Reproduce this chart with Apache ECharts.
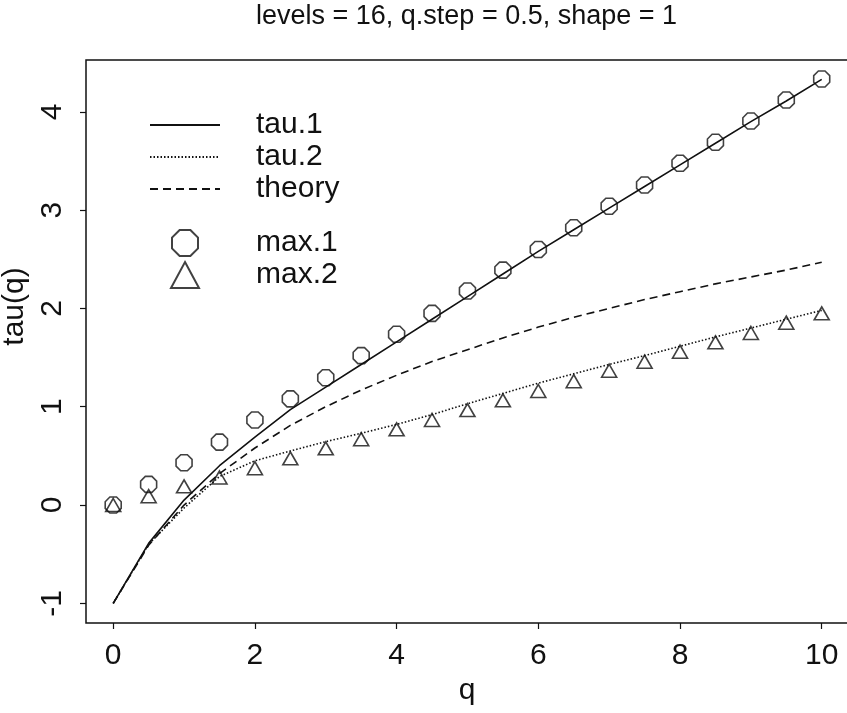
<!DOCTYPE html>
<html>
<head>
<meta charset="utf-8">
<script src="https://cdn.jsdelivr.net/npm/echarts@6/dist/echarts.min.js"></script>
<style>
  html, body { margin: 0; padding: 0; background: #fff; }
  #main { width: 847px; height: 713px; }
</style>
</head>
<body>
<div id="main"></div>
<script>
const chartDom = document.getElementById('main');
const myChart = echarts.init(chartDom);

// q grid, step 0.5
const qValues = [0, 0.5, 1, 1.5, 2, 2.5, 3, 3.5, 4, 4.5, 5, 5.5, 6, 6.5, 7, 7.5, 8, 8.5, 9, 9.5, 10];
// lines
const tau1 = [-1, -0.39, 0.05, 0.40, 0.69, 0.97, 1.20, 1.43, 1.66, 1.89, 2.12, 2.35, 2.58, 2.80, 3.02, 3.24, 3.46, 3.68, 3.90, 4.11, 4.33];
const tau2 = [-1, -0.40, -0.03, 0.29, 0.45, 0.55, 0.645, 0.73, 0.82, 0.92, 1.03, 1.135, 1.24, 1.335, 1.43, 1.52, 1.615, 1.71, 1.80, 1.89, 1.98];
const theory = [-1, -0.41, 0, 0.32, 0.58, 0.81, 1.0, 1.17, 1.32, 1.46, 1.58, 1.70, 1.81, 1.91, 2.0, 2.09, 2.17, 2.25, 2.32, 2.39, 2.47];
// points
const max1 = [0, 0.21, 0.43, 0.64, 0.865, 1.08, 1.295, 1.52, 1.737, 1.95, 2.177, 2.39, 2.60, 2.82, 3.04, 3.255, 3.476, 3.69, 3.906, 4.12, 4.334];
const max2 = [0, 0.09, 0.19, 0.28, 0.375, 0.475, 0.577, 0.67, 0.77, 0.865, 0.966, 1.065, 1.16, 1.26, 1.366, 1.458, 1.56, 1.655, 1.75, 1.855, 1.95];

const xTicks = [0, 2, 4, 6, 8, 10];
const yTicks = [-1, 0, 1, 2, 3, 4];

const pairs = (ys) => qValues.map((q, i) => [q, ys[i]]);

const FONT = '"Liberation Sans", Arial, Helvetica, sans-serif';
const octagon = 'path://M0.383,-0.924L0.924,-0.383L0.924,0.383L0.383,0.924L-0.383,0.924L-0.924,0.383L-0.924,-0.383L-0.383,-0.924Z';

const option = {
  backgroundColor: '#fff',
  animation: false,
  textStyle: { fontFamily: FONT, color: '#111' },
  title: {
    text: 'levels = 16, q.step = 0.5, shape = 1',
    left: 256,
    top: 3,
    padding: 0,
    textStyle: { fontFamily: FONT, fontSize: 27, fontWeight: 'normal', color: '#111' }
  },
  grid: {
    left: 86,
    top: 60,
    width: 762,
    bottom: 90,
    outerBoundsMode: 'none',
    containLabel: false,
    show: true,
    borderColor: '#111',
    borderWidth: 1.5,
    backgroundColor: 'transparent'
  },
  legend: [
    {
      data: ['tau.1', 'tau.2', 'theory'],
      orient: 'vertical',
      left: 149,
      top: 109,
      padding: 0,
      itemGap: 0,
      itemWidth: 70,
      itemHeight: 14,
      selectedMode: false,
      itemStyle: { color: 'transparent', borderColor: 'transparent', borderWidth: 0 },
      textStyle: { fontFamily: FONT, fontSize: 30, lineHeight: 32, color: '#111', padding: [0, 0, 0, 31] }
    },
    {
      data: ['max.1', 'max.2'],
      orient: 'vertical',
      left: 170,
      top: 227,
      padding: 0,
      itemGap: 0,
      itemWidth: 28,
      itemHeight: 26,
      selectedMode: false,
      textStyle: { fontFamily: FONT, fontSize: 30, lineHeight: 32, color: '#111', padding: [0, 0, 0, 52] }
    }
  ],
  xAxis: {
    type: 'value',
    min: -0.384,
    max: 10.371,
    name: 'q',
    nameLocation: 'middle',
    nameGap: 46,
    nameTextStyle: { fontFamily: FONT, fontSize: 30, color: '#111' },
    axisLine: { show: false, onZero: false },
    axisTick: { show: true, inside: false, length: 6, customValues: xTicks, lineStyle: { color: '#111', width: 1.2 } },
    axisLabel: { customValues: xTicks, fontSize: 30, margin: 18, color: '#111', fontFamily: FONT },
    splitLine: { show: false }
  },
  yAxis: {
    type: 'value',
    min: -1.2,
    max: 4.527,
    name: 'tau(q)',
    nameLocation: 'middle',
    nameGap: 42,
    nameRotate: 90,
    nameTextStyle: { fontFamily: FONT, fontSize: 30, color: '#111', padding: [0, 0, 0, 70] },
    axisLine: { show: false, onZero: false },
    axisTick: { show: true, inside: false, length: 6, customValues: yTicks, lineStyle: { color: '#111', width: 1.2 } },
    axisLabel: { customValues: yTicks, rotate: 90, fontSize: 30, margin: 18, color: '#111', fontFamily: FONT },
    splitLine: { show: false }
  },
  series: [
    {
      name: 'tau.1',
      type: 'line',
      data: pairs(tau1),
      symbol: 'none',
      lineStyle: { color: '#111', width: 1.6, type: 'solid' },
      itemStyle: { color: '#111' }
    },
    {
      name: 'tau.2',
      type: 'line',
      data: pairs(tau2),
      symbol: 'none',
      lineStyle: { color: '#111', width: 1.6, type: [1.5, 2] },
      itemStyle: { color: '#111' }
    },
    {
      name: 'theory',
      type: 'line',
      data: pairs(theory),
      symbol: 'none',
      lineStyle: { color: '#111', width: 1.6, type: [8, 5] },
      itemStyle: { color: '#111' }
    },
    {
      name: 'max.1',
      type: 'scatter',
      data: pairs(max1),
      symbol: octagon,
      symbolSize: 16,
      itemStyle: { color: 'transparent', borderColor: '#111', borderWidth: 1.6 }
    },
    {
      name: 'max.2',
      type: 'scatter',
      data: pairs(max2),
      symbol: 'triangle',
      symbolSize: [15, 13],
      itemStyle: { color: 'transparent', borderColor: '#111', borderWidth: 1.6 }
    }
  ]
};

option && myChart.setOption(option);
</script>
</body>
</html>
